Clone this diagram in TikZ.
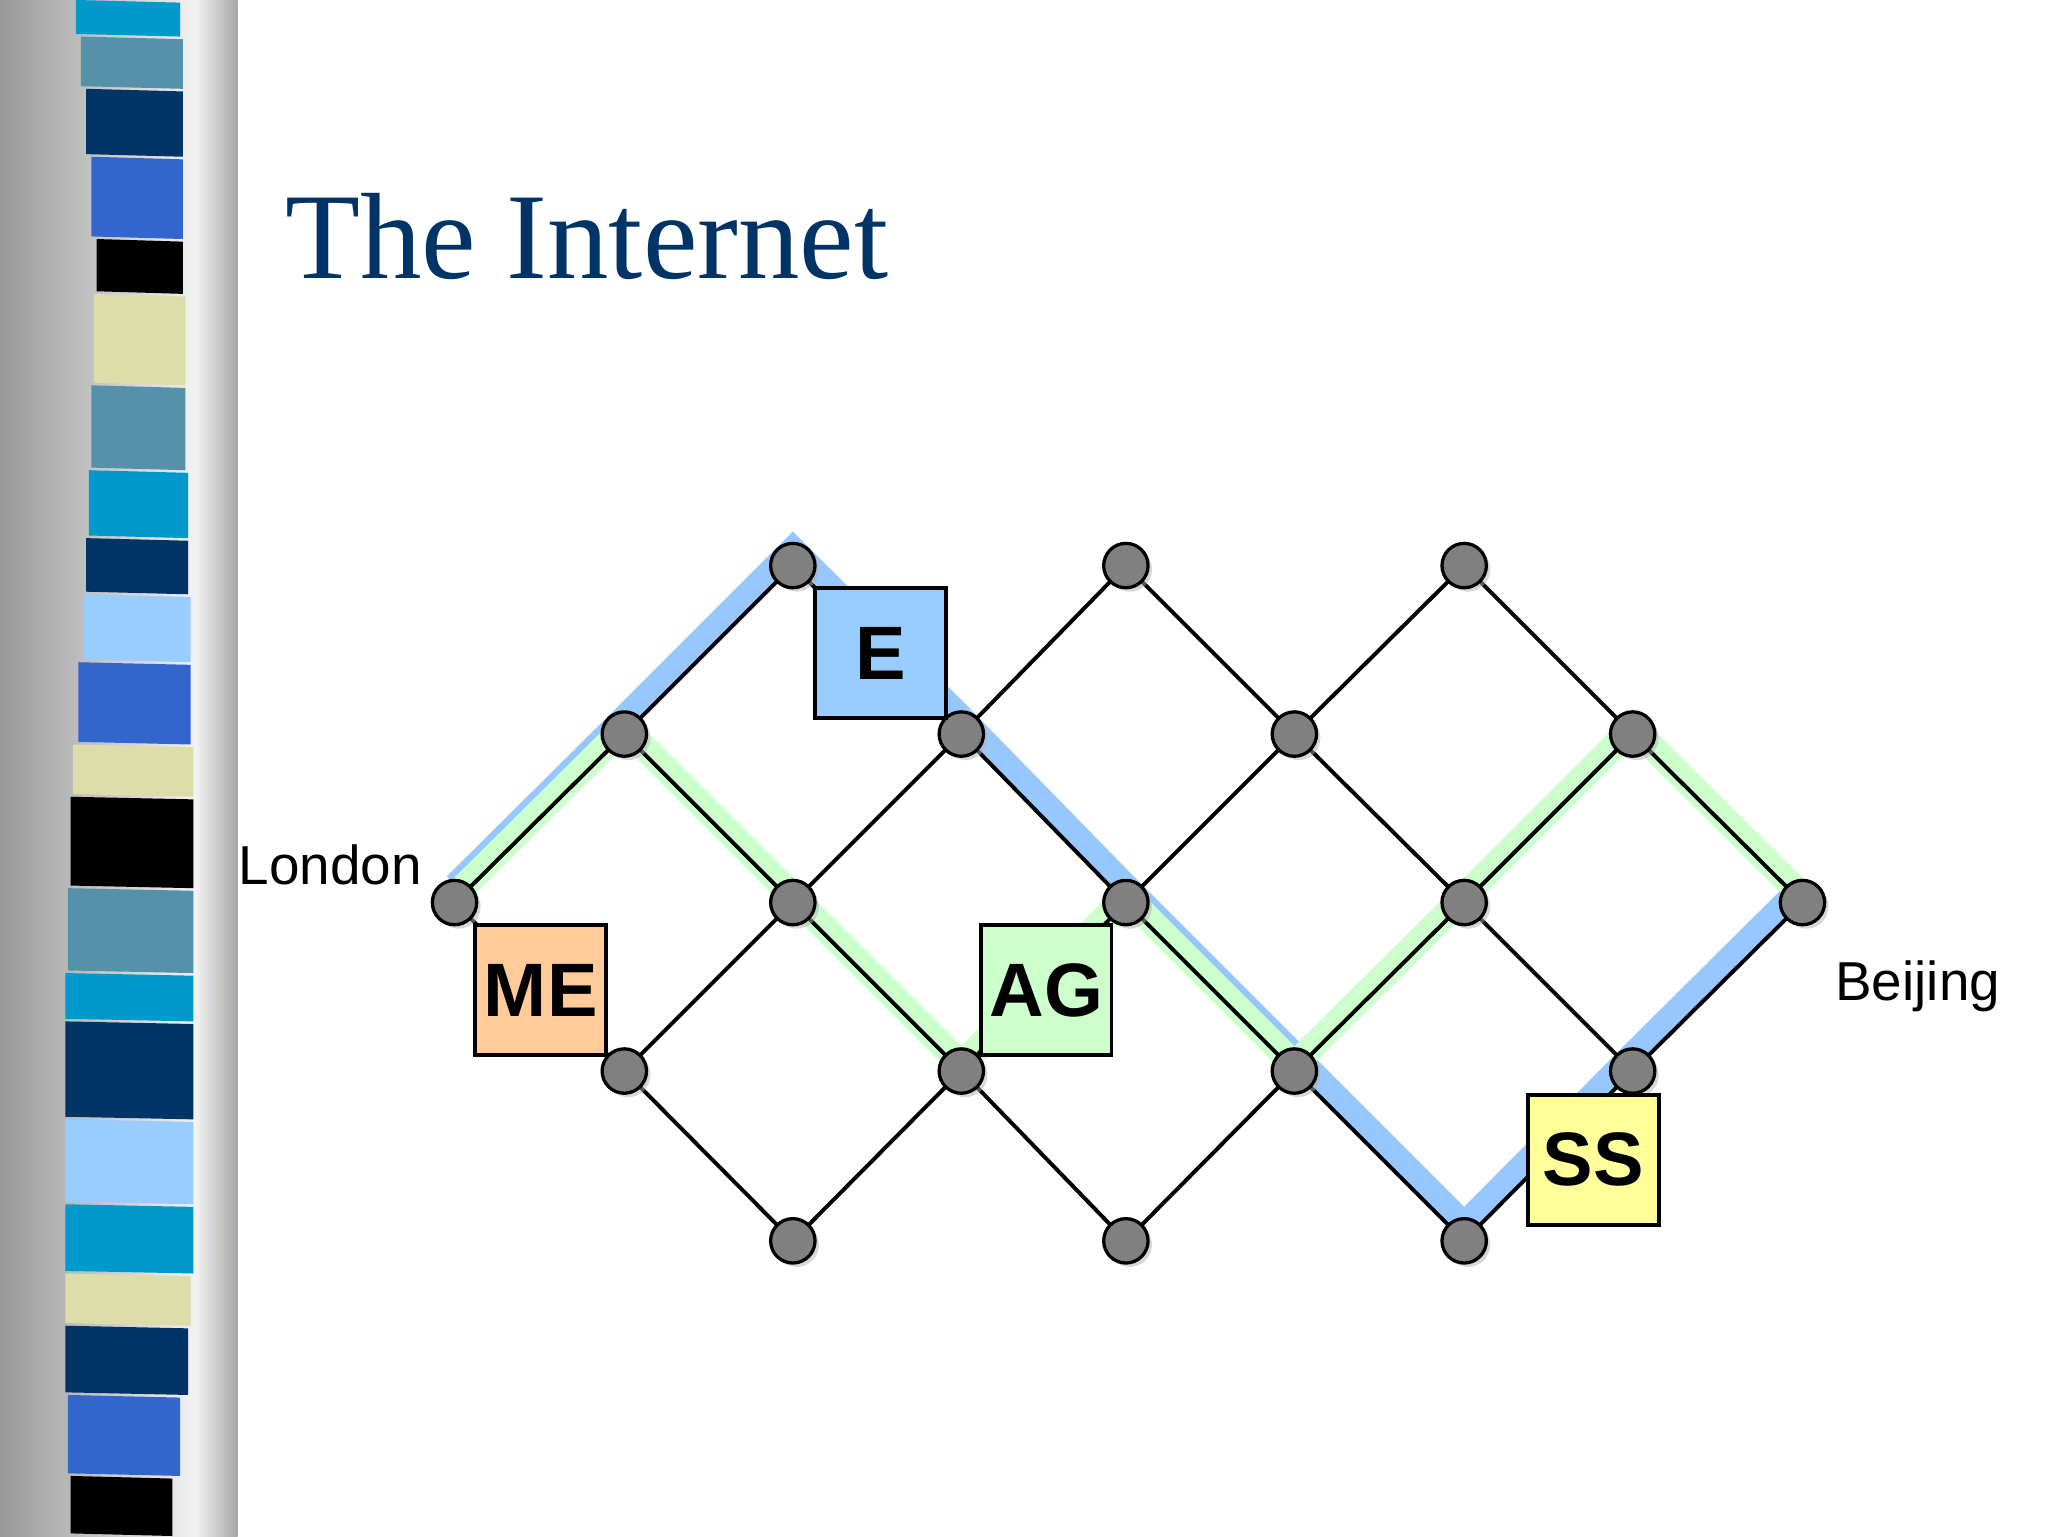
\documentclass[tikz,border=0pt]{standalone}
\usepackage{fontspec}
\setmainfont{Liberation Serif}
\setsansfont{Liberation Sans}
\usetikzlibrary{shadows}
\definecolor{navy}{RGB}{0,51,102}
\definecolor{cyanb}{RGB}{0,153,204}
\definecolor{steel}{RGB}{85,146,170}
\definecolor{royal}{RGB}{51,102,204}
\definecolor{beige}{RGB}{221,221,170}
\definecolor{lblue}{RGB}{153,204,255}
\definecolor{lorange}{RGB}{255,204,153}
\definecolor{lgreen}{RGB}{204,255,204}
\definecolor{lyellow}{RGB}{255,255,153}
\definecolor{hlblue}{RGB}{150,200,255}
\definecolor{hlgreen}{RGB}{204,255,204}
\tikzset{
 rt/.style={circle,draw=black,line width=2.5pt,fill=gray,minimum size=34pt,inner sep=0pt,drop shadow={shadow xshift=3pt,shadow yshift=-3pt,fill=gray!60}},
 agent/.style={draw=black,line width=3pt,minimum size=100pt,inner sep=0pt,font=\sffamily\bfseries\fontsize{58}{60}\selectfont},
 link/.style={line width=3pt,black},
 lbl/.style={font=\sffamily\fontsize{42}{44}\selectfont}
}
\begin{document}
\begin{tikzpicture}[x=1pt,y=-1pt]
\useasboundingbox (0,0) rectangle (1568,1176);
\fill[white] (0,0) rectangle (1568,1176);
% left strip
\shade[left color=gray!80,right color=gray!10] (0,0) rectangle (150,1176);
\shade[left color=gray!10,right color=gray!70] (150,0) rectangle (182,1176);
\foreach \a/\b/\c/\l/\r in {0/28/cyanb/58/138,28/68/steel/62/140,68/120/navy/66/140,120/183/royal/70/140,183/225/black/74/140,225/295/beige/72/142,295/360/steel/70/142,360/412/cyanb/68/144,412/455/navy/66/144,455/507/lblue/64/146,507/570/royal/60/146,570/610/beige/56/148,610/680/black/54/148,680/745/steel/52/148,745/782/cyanb/50/148,782/857/navy/50/148,857/922/lblue/50/148,922/975/cyanb/50/148,975/1015/beige/50/146,1015/1068/navy/50/144,1068/1130/royal/52/138,1130/1176/black/54/132}
 \fill[\c] (\l,\a) -- (\r,\a+2) -- (\r,\b) -- (\l,\b-2) -- cycle;
% title
\node[anchor=base west,text=navy,font=\fontsize{94}{100}\selectfont,inner sep=0pt] (title) at (218,213) {The Internet};
% routers
\foreach \n/\x/\y in {a1/607/433,a2/862/433,a3/1121/433,
 b1/478/562,b2/736/562,b3/991/562,b4/1250/562,
 c0/348/691,c1/607/691,c2/862/691,c3/1121/691,c4/1380/691,
 d1/478/820,d2/736/820,d3/991/820,d4/1250/820,
 e1/607/950,e2/862/950,e3/1121/950}
 \coordinate (\n) at (\x,\y);
% highlighted paths
\draw[hlblue,line width=17pt,line join=miter,transform canvas={yshift=14pt}] (c0)--(b1)--(a1)--(b2)--(c2)--(d3)--(e3)--(d4)--(c4);
\draw[hlgreen,line width=20pt,line join=miter,transform canvas={yshift=5pt}] (c0)--(b1)--(c1)--(d2)--(c2)--(d3)--(c3)--(b4)--(c4);
% links
\foreach \p/\q in {c0/b1,c0/d1,b1/a1,b1/c1,d1/c1,d1/e1,a1/b2,c1/b2,c1/d2,e1/d2,b2/a2,b2/c2,d2/c2,d2/e2,a2/b3,c2/b3,c2/d3,e2/d3,b3/a3,b3/c3,d3/c3,d3/e3,a3/b4,c3/b4,c3/d4,e3/d4,b4/c4,d4/c4}
 \draw[link] (\p)--(\q);
\foreach \n in {a1,a2,a3,b1,b2,b3,b4,c0,c1,c2,c3,c4,d1,d2,d3,d4,e1,e2,e3}
 \node[rt] (n\n) at (\n) {};
% agents
\node[agent,fill=lblue] (E) at (674,500) {E};
\node[agent,fill=lorange] (ME) at (414,758) {ME};
\node[agent,fill=lgreen] (AG) at (801,758) {AG};
\node[agent,fill=lyellow] (SS) at (1220,888) {SS};
% labels
\node[lbl,anchor=east,inner sep=0pt] (london) at (323,662) {London};
\node[lbl,anchor=west,inner sep=0pt] (beijing) at (1405,755) {Beijing};
\end{tikzpicture}
\end{document}
